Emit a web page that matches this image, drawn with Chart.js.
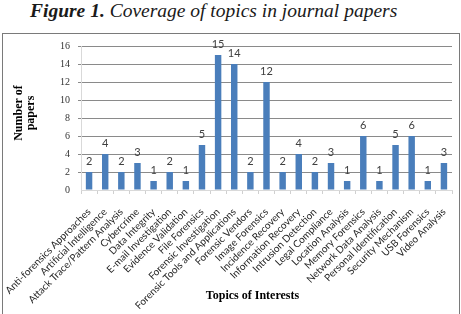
<!DOCTYPE html>
<html>
<head>
<meta charset="utf-8">
<script src="https://cdn.jsdelivr.net/npm/chart.js@4.4.1/dist/chart.umd.min.js"></script>
<style>
  html, body { margin: 0; padding: 0; background: #ffffff; width: 461px; height: 314px; overflow: hidden; }
  #title { position: absolute; left: 30px; top: 0px; font-family: "Liberation Serif", "Times New Roman", serif; font-size: 19.5px; font-style: italic; color: #1a1a1a; white-space: nowrap; }
  #title b { font-weight: bold; }
  #box { position: absolute; left: 2px; top: 33px; width: 456px; height: 300px; border: 1px solid #7a7a7a; }
  #wrap { position: absolute; left: 0; top: 0; width: 461px; height: 314px; }
</style>
</head>
<body>
<div id="title"><b>Figure 1.</b> Coverage of topics in journal papers</div>
<div id="box"></div>
<div id="wrap"><canvas id="c" width="461" height="314"></canvas></div>
<script>
const categories = [
  "Anti-forensics Approaches", "Artificial Intelligence", "Attack Trace/Pattern Analysis",
  "Cybercrime", "Data Integrity", "E-mail Investigation", "Evidence Validation",
  "File Forensics", "Forensic Investigation", "Forensic Tools and Applications",
  "Forensic Vendors", "Image Forensics", "Incidence Recovery", "Information Recovery",
  "Intrusion Detection", "Legal Compliance", "Location Analysis", "Memory Forensics",
  "Network Data Analysis", "Personal Identification", "Security Mechanism",
  "USB Forensics", "Video Analysis"
];
const papers = [2, 4, 2, 3, 1, 2, 1, 5, 15, 14, 2, 12, 2, 4, 2, 3, 1, 6, 1, 5, 6, 1, 3];
const yTitle = ["Number of", "papers"];
const xTitle = "Topics of Interests";

const valueLabels = {
  id: 'valueLabels',
  afterDatasetsDraw(chart) {
    const ctx = chart.ctx;
    const meta = chart.getDatasetMeta(0);
    ctx.save();
    ctx.font = '11px Lato, "Liberation Sans", Arial, sans-serif';
    ctx.fillStyle = '#404040';
    ctx.textAlign = 'center';
    ctx.textBaseline = 'alphabetic';
    meta.data.forEach((bar, i) => {
      ctx.fillText(String(papers[i]), bar.x, bar.y - 7);
    });
    ctx.restore();
  }
};

const axisTitles = {
  id: 'axisTitles',
  afterDraw(chart) {
    const ctx = chart.ctx;
    const a = chart.chartArea;
    ctx.save();
    ctx.fillStyle = '#000000';
    ctx.font = 'bold 12px "Liberation Serif", "Times New Roman", serif';
    ctx.textAlign = 'center';
    ctx.textBaseline = 'middle';
    ctx.fillText(xTitle, a.left - 14 + (a.right - a.left) / 2, 296);
    ctx.translate(25, 113);
    ctx.rotate(-Math.PI / 2);
    ctx.fillText(yTitle[0], 0, -6);
    ctx.fillText(yTitle[1], 0, 6);
    ctx.restore();
  }
};

new Chart(document.getElementById('c'), {
  type: 'bar',
  data: {
    labels: categories,
    datasets: [{
      data: papers,
      backgroundColor: '#4a7ebb',
      borderWidth: 0,
      categoryPercentage: 1.0,
      barPercentage: 0.4
    }]
  },
  options: {
    responsive: false,
    animation: false,
    devicePixelRatio: 1,
    layout: { padding: { top: 46, right: 9, left: 0, bottom: 0 } },
    plugins: {
      legend: { display: false },
      title: { display: false },
      tooltip: { enabled: false }
    },
    scales: {
      x: {
        afterFit(scale) {
          scale.height = 124;
          scale.paddingLeft = 0;
          scale.paddingRight = 0;
        },
        grid: {
          offset: true,
          drawOnChartArea: false,
          drawTicks: true,
          tickLength: 4,
          color: '#d0d0d0'
        },
        border: { display: true, color: '#d9d9d9' },
        ticks: {
          autoSkip: false,
          maxRotation: 45,
          minRotation: 45,
          padding: 12,
          color: '#262626',
          font: { family: 'Lato, "Liberation Sans", sans-serif', size: 10 }
        }
      },
      y: {
        min: 0,
        max: 16,
        afterFit(scale) {
          scale.width = 81;
          scale.paddingTop = 0;
          scale.paddingBottom = 0;
        },
        grid: {
          color: (ctx) => (ctx.tick && ctx.tick.value === 0) ? 'rgba(0,0,0,0)' : '#8a8a8a',
          tickLength: 3,
          lineWidth: 1
        },
        border: { display: true, color: '#d9d9d9' },
        ticks: {
          stepSize: 2,
          padding: 8,
          color: '#333333',
          font: { family: '"Liberation Serif", "Times New Roman", serif', size: 10 }
        }
      }
    }
  },
  plugins: [valueLabels, axisTitles]
});
</script>
</body>
</html>
